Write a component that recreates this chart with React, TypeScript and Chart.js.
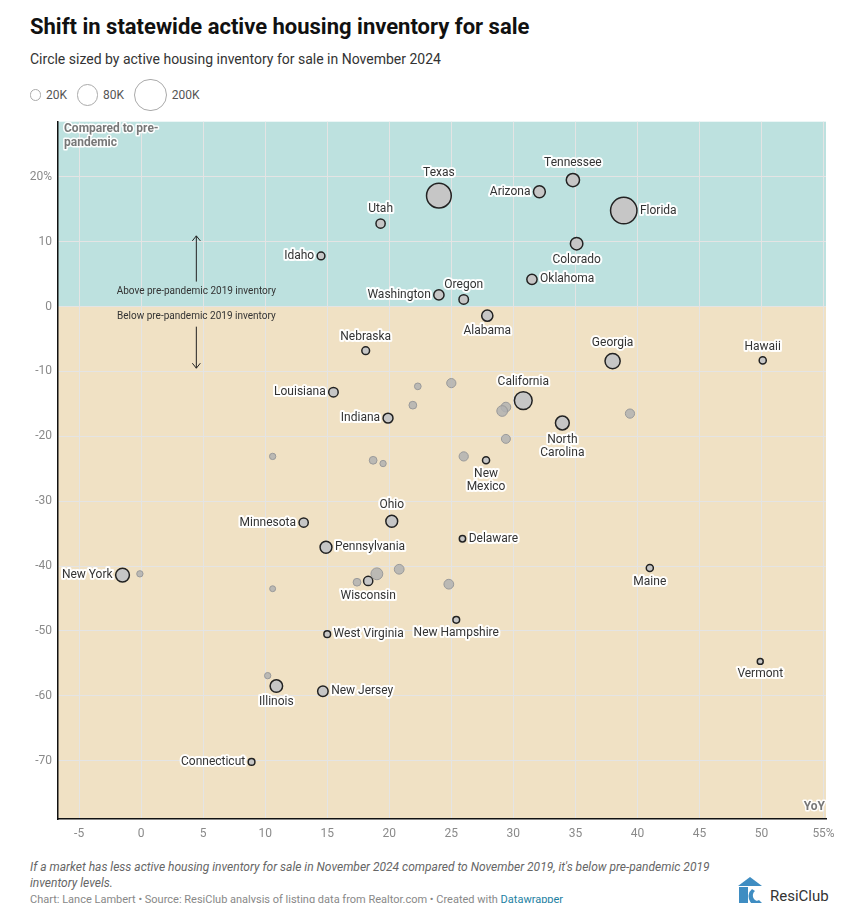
import React, { useEffect, useRef } from 'react';
import { Chart, registerables } from 'chart.js';

Chart.register(...registerables);

// ---- Data ----
const labeledStates = [
  'Texas', 'Tennessee', 'Arizona', 'Florida', 'Utah', 'Idaho', 'Colorado', 'Oklahoma',
  'Washington', 'Oregon', 'Alabama', 'Nebraska', 'Georgia', 'Hawaii', 'California',
  'North Carolina', 'Louisiana', 'Indiana', 'New Mexico', 'Ohio', 'Minnesota', 'Delaware',
  'Pennsylvania', 'Maine', 'New York', 'Wisconsin', 'New Hampshire', 'West Virginia',
  'Vermont', 'Illinois', 'New Jersey', 'Connecticut',
];
// YoY change in active inventory (%), Nov 2024 vs Nov 2023
const labeledYoY = [
  24.0, 34.8, 32.1, 38.9, 19.3, 14.5, 35.1, 31.5,
  24.0, 26.0, 27.9, 18.1, 38.0, 50.1, 30.8,
  33.95, 15.5, 19.9, 27.8, 20.2, 13.1, 25.9,
  14.9, 41.0, -1.5, 18.3, 25.4, 15.0,
  49.9, 10.9, 14.65, 8.9,
];
// Change vs pre-pandemic Nov 2019 (%)
const labeledVsPre = [
  17.1, 19.5, 17.7, 14.8, 12.8, 7.8, 9.7, 4.2,
  1.8, 1.1, -1.4, -6.8, -8.4, -8.3, -14.5,
  -17.95, -13.2, -17.2, -23.7, -33.1, -33.3, -35.8,
  -37.1, -40.3, -41.4, -42.3, -48.3, -50.5,
  -54.7, -58.5, -59.3, -70.2,
];
// Active inventory for sale, Nov 2024 (thousands)
const labeledInventory = [
  122, 35, 28, 139, 17, 12, 31, 21,
  21, 18, 25, 12, 46, 10, 63,
  38, 18, 19.6, 10, 28, 17, 8,
  28, 10, 38, 17, 9, 9,
  7, 31, 22, 9,
];

const otherYoY = [22.3, 21.9, 25.0, 29.4, 29.1, 39.4, 29.4, 26.0, 10.6, 18.7, 19.5, -0.1, 19.0, 17.4, 20.8, 10.6, 10.2, 24.8];
const otherVsPre = [-12.3, -15.2, -11.8, -15.5, -16.1, -16.5, -20.4, -23.1, -23.1, -23.7, -24.2, -41.2, -41.2, -42.5, -40.5, -43.5, -56.9, -42.8];
const otherInventory = [9, 12, 17, 19, 23, 17, 16, 17, 8, 12, 8, 8, 28, 12, 19, 7, 8, 19];

const legendSizes = [20, 80, 200];
const legendLabels = ['20K', '80K', '200K'];

const xRange = { min: -6.7, max: 55.2 };
const yRange = { min: -79, max: 28.5 };

// Label placement around each labeled bubble
const labelPlacement: Record<string, 'top' | 'bottom' | 'left' | 'right'> = {
  Texas: 'top', Tennessee: 'top', Arizona: 'left', Florida: 'right', Utah: 'top', Idaho: 'left',
  Colorado: 'bottom', Oklahoma: 'right', Washington: 'left', Oregon: 'top', Alabama: 'bottom',
  Nebraska: 'top', Georgia: 'top', Hawaii: 'top', California: 'top', 'North Carolina': 'bottom',
  Louisiana: 'left', Indiana: 'left', 'New Mexico': 'bottom', Ohio: 'top', Minnesota: 'left',
  Delaware: 'right', Pennsylvania: 'right', Maine: 'bottom', 'New York': 'left', Wisconsin: 'bottom',
  'New Hampshire': 'bottom', 'West Virginia': 'right', Vermont: 'bottom', Illinois: 'bottom',
  'New Jersey': 'right', Connecticut: 'left',
};
const multiLine: Record<string, string[]> = {
  'North Carolina': ['North', 'Carolina'],
  'New Mexico': ['New', 'Mexico'],
};

const FONT = 'Roboto, "Noto Sans", sans-serif';
const radiusOf = (k: number) => 1.12 * Math.sqrt(k);

function haloText(ctx: CanvasRenderingContext2D, t: string, x: number, y: number, fill: string, halo = 4) {
  ctx.lineJoin = 'round';
  ctx.lineWidth = halo;
  ctx.strokeStyle = 'rgba(255,255,255,0.95)';
  ctx.strokeText(t, x, y);
  ctx.fillStyle = fill;
  ctx.fillText(t, x, y);
}

const bgPlugin = {
  id: 'bgZones',
  beforeDraw(chart: any) {
    const { ctx, chartArea: a, scales } = chart;
    const y0 = scales.y.getPixelForValue(0);
    ctx.save();
    ctx.fillStyle = '#bde1df';
    ctx.fillRect(a.left, a.top, a.right - a.left, y0 - a.top);
    ctx.fillStyle = '#f0e1c4';
    ctx.fillRect(a.left, y0, a.right - a.left, a.bottom - y0);
    ctx.restore();
  },
};

const annotPlugin = {
  id: 'annot',
  afterDatasetsDraw(chart: any) {
    const { ctx, chartArea: a, scales } = chart;
    const xs = scales.x, ys = scales.y;
    ctx.save();
    // corner notes
    ctx.font = `bold 12px ${FONT}`;
    ctx.textBaseline = 'middle';
    ctx.textAlign = 'left';
    haloText(ctx, 'Compared to pre-', a.left + 6, a.top + 7, '#777', 3);
    haloText(ctx, 'pandemic', a.left + 6, a.top + 21, '#777', 3);
    ctx.textAlign = 'right';
    haloText(ctx, 'YoY', a.right - 1, a.bottom - 12, '#777', 3);

    // arrows
    const ax = xs.getPixelForValue(4.45);
    ctx.strokeStyle = '#222';
    ctx.lineWidth = 1;
    const arrow = (yFrom: number, yTo: number) => {
      const p1 = ys.getPixelForValue(yFrom), p2 = ys.getPixelForValue(yTo);
      ctx.beginPath();
      ctx.moveTo(ax, p1);
      ctx.lineTo(ax, p2);
      const d = p2 < p1 ? 1 : -1;
      ctx.moveTo(ax - 4, p2 + d * 5);
      ctx.lineTo(ax, p2);
      ctx.lineTo(ax + 4, p2 + d * 5);
      ctx.stroke();
    };
    arrow(3.85, 10.9);
    arrow(-3.1, -9.5);
    ctx.font = `10px ${FONT}`;
    ctx.textAlign = 'center';
    ctx.fillStyle = '#333';
    ctx.fillText('Above pre-pandemic 2019 inventory', ax, ys.getPixelForValue(2.3));
    ctx.fillText('Below pre-pandemic 2019 inventory', ax, ys.getPixelForValue(-1.55));

    // state labels
    const meta = chart.getDatasetMeta(1);
    ctx.font = `12px ${FONT}`;
    meta.data.forEach((el: any, i: number) => {
      const name = labeledStates[i];
      const r = radiusOf(labeledInventory[i]);
      const pos = labelPlacement[name] || 'top';
      const lines = multiLine[name] || [name];
      const lh = 13;
      ctx.textBaseline = 'middle';
      if (pos === 'top') {
        ctx.textAlign = 'center';
        lines.forEach((l, j) => haloText(ctx, l, el.x, el.y - r - 10 - (lines.length - 1 - j) * lh, '#333'));
      } else if (pos === 'bottom') {
        ctx.textAlign = 'center';
        lines.forEach((l, j) => haloText(ctx, l, el.x, el.y + r + 10 + j * lh, '#333'));
      } else if (pos === 'left') {
        ctx.textAlign = 'right';
        haloText(ctx, name, el.x - r - 3, el.y, '#333');
      } else {
        ctx.textAlign = 'left';
        haloText(ctx, name, el.x + r + 3, el.y, '#333');
      }
    });
    ctx.restore();
  },
};

function ChartCanvas() {
  const ref = useRef<HTMLCanvasElement>(null);
  useEffect(() => {
    if (!ref.current) return;
    const chart = new Chart(ref.current, {
      type: 'bubble',
      data: {
        datasets: [
          {
            label: 'Other states',
            data: otherYoY.map((x, i) => ({ x, y: otherVsPre[i], r: radiusOf(otherInventory[i]) })),
            backgroundColor: 'rgba(178,178,178,0.85)',
            borderColor: '#9a9a9a',
            borderWidth: 1,
          },
          {
            label: 'Labeled states',
            data: labeledYoY.map((x, i) => ({ x, y: labeledVsPre[i], r: radiusOf(labeledInventory[i]) })),
            backgroundColor: '#c6c6c6',
            borderColor: '#222',
            borderWidth: 1.5,
          },
        ],
      },
      options: {
        responsive: false,
        animation: false,
        events: [],
        layout: { padding: { top: 8, right: 38, left: 0, bottom: 0 } },
        plugins: { legend: { display: false }, tooltip: { enabled: false } },
        scales: {
          x: {
            type: 'linear',
            min: xRange.min,
            max: xRange.max,
            ticks: {
              stepSize: 5,
              includeBounds: false,
              color: '#8a8a8a',
              font: { family: FONT, size: 12 },
              padding: 8,
              callback: (v: any) => (v === 55 ? '55%' : String(v)),
            },
            grid: { color: '#e4e4e4', drawTicks: false, lineWidth: 1 },
            border: { display: true, color: '#111', width: 1.5 },
            afterFit: (s: any) => { s.height = 38; },
          },
          y: {
            type: 'linear',
            min: yRange.min,
            max: yRange.max,
            ticks: {
              stepSize: 10,
              includeBounds: false,
              color: '#8a8a8a',
              font: { family: FONT, size: 12 },
              padding: 6,
              callback: (v: any) => (v === 20 ? '20%' : String(v)),
            },
            grid: { color: '#e4e4e4', drawTicks: false, lineWidth: 1 },
            border: { display: true, color: '#111', width: 1.5 },
            afterFit: (s: any) => { s.width = 58; },
          },
        },
      },
      plugins: [bgPlugin, annotPlugin],
    } as any);
    return () => chart.destroy();
  }, []);
  return <canvas ref={ref} width={864} height={750} style={{ position: 'absolute', left: 0, top: 107, width: 864, height: 750 }} />;
}

export default function App() {
  return (
    <div style={{ position: 'absolute', left: 0, top: 0, width: 864, height: 903, overflow: 'hidden', background: '#fff', fontFamily: FONT }}>
      <div style={{ position: 'absolute', left: 30, top: 14, fontSize: 22, fontWeight: 700, color: '#111', whiteSpace: 'nowrap' }}>
        Shift in statewide active housing inventory for sale
      </div>
      <div style={{ position: 'absolute', left: 30, top: 51, fontSize: 14, color: '#333', whiteSpace: 'nowrap' }}>
        Circle sized by active housing inventory for sale in November 2024
      </div>
      <div style={{ position: 'absolute', left: 30, top: 79, height: 32, display: 'flex', alignItems: 'center', fontSize: 12, color: '#555' }}>
        {legendSizes.map((s, i) => {
          const r = radiusOf(s);
          return (
            <div key={i} style={{ display: 'flex', alignItems: 'center', marginRight: 10 }}>
              <div style={{ width: 2 * r + 1, height: 2 * r + 1, borderRadius: '50%', border: '1px solid #aaa', boxSizing: 'border-box' }} />
              <span style={{ marginLeft: 5 }}>{legendLabels[i]}</span>
            </div>
          );
        })}
      </div>
      <ChartCanvas />
      <div style={{ position: 'absolute', left: 30, top: 859, fontSize: 12, fontStyle: 'italic', color: '#666', lineHeight: '16px', whiteSpace: 'nowrap' }}>
        If a market has less active housing inventory for sale in November 2024 compared to November 2019, it's below pre-pandemic 2019
        <br />
        inventory levels.
      </div>
      <div style={{ position: 'absolute', left: 30, top: 893, fontSize: 11, color: '#888', whiteSpace: 'nowrap' }}>
        Chart: Lance Lambert • Source: ResiClub analysis of listing data from Realtor.com • Created with{' '}
        <span style={{ color: '#1d81a2' }}>Datawrapper</span>
      </div>
      <div style={{ position: 'absolute', left: 736, top: 877, display: 'flex', alignItems: 'center' }}>
        <svg width={28} height={30} viewBox="0 0 28 30">
          <polygon points="14,0 26,9 2,9" fill="#3f8dc2" />
          <rect x={3} y={10} width={9} height={20} fill="#3f8dc2" />
          <path d="M16 12 a8 9 0 1 0 10 14 l-3 -3 a4 5 0 1 1 -4 -9 z" fill="#3f8dc2" />
        </svg>
        <span style={{ marginLeft: 6, fontSize: 15, color: '#333', marginTop: 8 }}>ResiClub</span>
      </div>
    </div>
  );
}
